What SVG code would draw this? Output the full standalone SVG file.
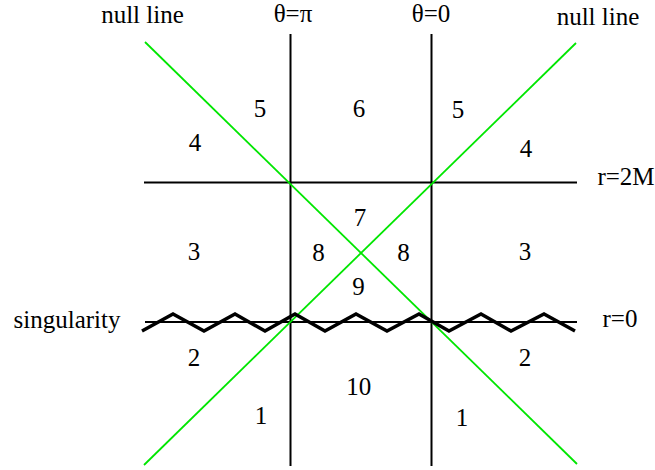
<svg xmlns="http://www.w3.org/2000/svg" width="655" height="470" viewBox="0 0 655 470">
<style>
text{font-family:'Liberation Serif','Times New Roman',Times,serif;font-size:25px;fill:#000;text-anchor:middle}
.k{stroke:#000;stroke-width:2;fill:none}
.g{stroke:#00e600;stroke-width:1.8;fill:none}
.z{stroke:#000;stroke-width:3.5;fill:none;stroke-linejoin:miter}
</style>
<rect width="655" height="470" fill="#fff"/>
<g id="connectors">
<line class="k" x1="290.5" y1="34" x2="290.5" y2="466"/>
<line class="k" x1="431.5" y1="34" x2="431.5" y2="466"/>
<line class="k" x1="144" y1="182.5" x2="577" y2="182.5"/>
<line class="k" x1="145" y1="322" x2="577" y2="322" stroke-width="1.6"/>
<line class="g" x1="145" y1="42" x2="577" y2="464"/>
<line class="g" x1="144" y1="465" x2="576" y2="43"/>
<polyline class="z" points="142,331 173,314 204,331 235,314 265,331 295,314 325,331 356,314 387,331 419,314 449,331 481,314 511,331 544,314 575,331"/>
</g>
<g id="axis-labels" font-family="Liberation Serif, serif">
<text x="142.5" y="23">null line</text>
<text x="293" y="22">θ=π</text>
<text x="431" y="22">θ=0</text>
<text x="598" y="25">null line</text>
<text x="67" y="328">singularity</text>
<text x="626" y="185">r=2M</text>
<text x="620" y="327">r=0</text>
</g>
<g id="regions" font-family="Liberation Serif, serif">
<text x="195" y="151">4</text>
<text x="260" y="117">5</text>
<text x="359" y="117">6</text>
<text x="458" y="118">5</text>
<text x="526" y="157">4</text>
<text x="360" y="226">7</text>
<text x="194" y="260">3</text>
<text x="318.5" y="261">8</text>
<text x="403.5" y="261">8</text>
<text x="525" y="260">3</text>
<text x="358.5" y="295">9</text>
<text x="194" y="366">2</text>
<text x="525" y="366">2</text>
<text x="358.7" y="395">10</text>
<text x="261" y="424">1</text>
<text x="462" y="426">1</text>
</g>
</svg>
